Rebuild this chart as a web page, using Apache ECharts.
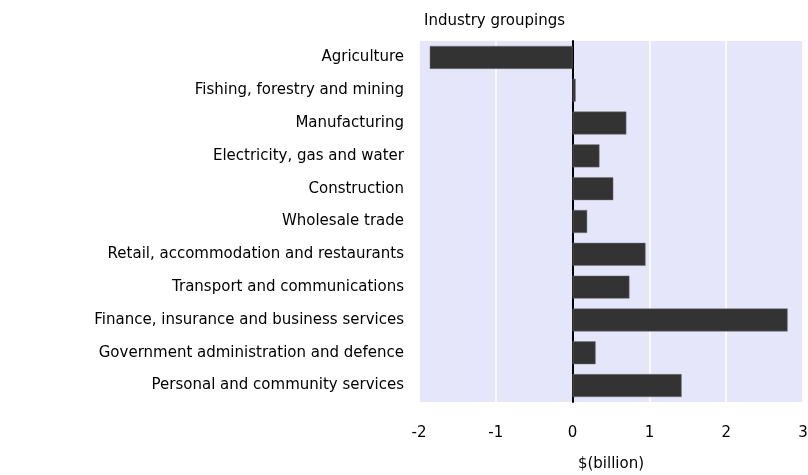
<!DOCTYPE html>
<html>
<head>
<meta charset="utf-8">
<script src="https://cdn.jsdelivr.net/npm/echarts@6/dist/echarts.min.js"></script>
<style>
html, body { margin: 0; padding: 0; background: #fff; }
#chart { width: 808px; height: 475px; }
</style>
</head>
<body>
<div id="chart"></div>
<script>
// 行业分组（从上到下）
var industries = [
    'Agriculture',
    'Fishing, forestry and mining',
    'Manufacturing',
    'Electricity, gas and water',
    'Construction',
    'Wholesale trade',
    'Retail, accommodation and restaurants',
    'Transport and communications',
    'Finance, insurance and business services',
    'Government administration and defence',
    'Personal and community services'
];
// 数值 $(billion)
var values = [-1.86, 0.04, 0.70, 0.35, 0.53, 0.19, 0.95, 0.74, 2.80, 0.30, 1.42];
var xTicks = [-2, -1, 0, 1, 2, 3];

var font = 'DejaVu Sans, Verdana, sans-serif';

var chart = echarts.init(document.getElementById('chart'));
chart.setOption({
    animation: false,
    title: {
        text: 'Industry groupings',
        left: 419,
        top: 9,
        textStyle: { fontFamily: font, fontSize: 15, fontWeight: 'normal', color: '#000' }
    },
    grid: {
        left: 419,
        right: 5,
        top: 41,
        bottom: 73,
        outerBoundsMode: 'none',
        show: true,
        backgroundColor: '#e6e6fa',
        borderWidth: 0
    },
    xAxis: {
        type: 'value',
        min: xTicks[0],
        max: xTicks[xTicks.length - 1],
        interval: 1,
        name: '$(billion)',
        nameLocation: 'middle',
        nameGap: 55,
        nameTextStyle: { fontFamily: font, fontSize: 15, color: '#000' },
        axisLine: { show: false },
        axisTick: { show: false },
        axisLabel: { fontFamily: font, fontSize: 15, color: '#000', margin: 24 },
        splitLine: { show: true, lineStyle: { color: '#ffffff', width: 1.5 } }
    },
    yAxis: {
        type: 'category',
        inverse: true,
        data: industries,
        axisLine: { show: true, onZero: true, lineStyle: { color: '#000', width: 2 } },
        axisTick: { show: false },
        axisLabel: { fontFamily: font, fontSize: 15, color: '#000', margin: 15 },
        splitLine: { show: false }
    },
    series: [{
        type: 'bar',
        data: values,
        barWidth: '70%',
        itemStyle: { color: '#333333', borderColor: '#777777', borderWidth: 0.5 }
    }]
});
</script>
</body>
</html>
